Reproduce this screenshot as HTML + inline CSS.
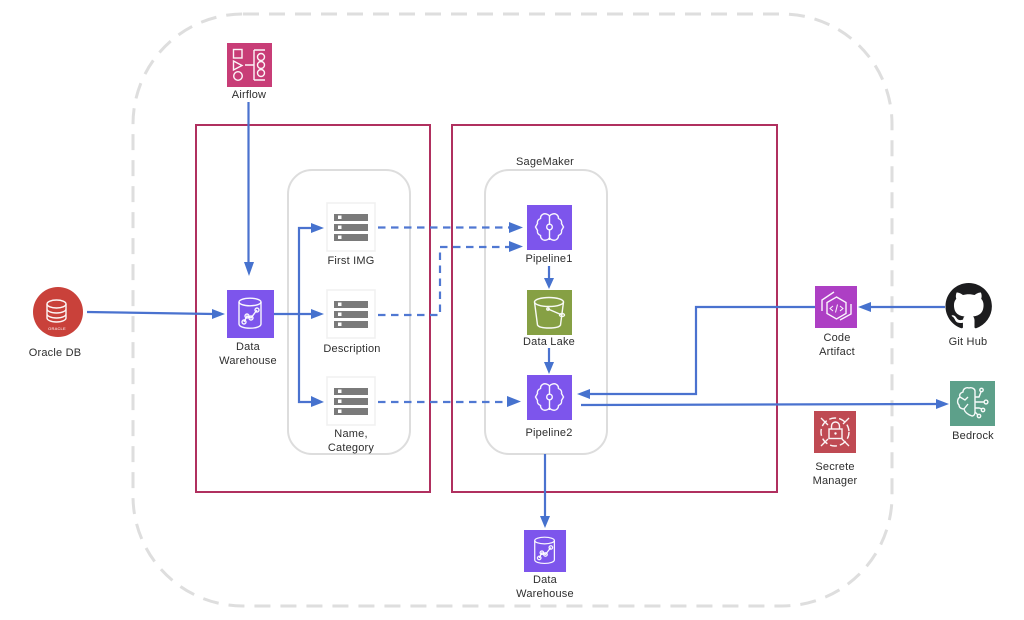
<!DOCTYPE html>
<html><head><meta charset="utf-8"><style>
html,body{margin:0;padding:0;background:#fff;width:1024px;height:620px;overflow:hidden}
svg{display:block}
text{font-family:"Liberation Sans",sans-serif;font-size:11px;fill:#2e2e2e;text-anchor:middle;letter-spacing:.2px}
.i{fill:none;stroke:#fff;stroke-width:1.4;opacity:.95}
.c{fill:none;stroke:#4a72cf;stroke-width:2.2}
.d{fill:none;stroke:#5078d2;stroke-width:2.2;stroke-dasharray:7.500 5.500}
.h{fill:#4672ce}
</style></head><body>
<svg width="1024" height="620" viewBox="0 0 1024 620" xmlns="http://www.w3.org/2000/svg">
<defs>
<g id="srv"><rect x="0" y="0" width="48" height="48" fill="#fff" stroke="#f0f0f0" stroke-width="1.500"/>
<g fill="#7a7a7a"><rect x="7" y="11" width="34" height="7"/><rect x="7" y="21" width="34" height="7"/><rect x="7" y="31" width="34" height="7"/></g>
<g fill="#fff"><rect x="11" y="12.500" width="3.500" height="3.500"/><rect x="11" y="22.500" width="3.500" height="3.500"/><rect x="11" y="32.500" width="3.500" height="3.500"/></g></g>
<g id="brain"><rect width="45" height="45" fill="#7d55ec"/>
<path class="i" d="M22.500 11c-1.500-2-5-3-7-1.500-1.500 1-2 2.500-2 4-2.500 1-3.500 3-3 5l-2 3.500 2 3.500c-.5 2 .5 4 3 5 0 1.500.5 3 2 4 2 1.500 5.500.5 7-1.500 1.500 2 5 3 7 1.500 1.500-1 2-2.500 2-4 2.500-1 3.500-3 3-5l2-3.500-2-3.500c.5-2-.5-4-3-5 0-1.500-.5-3-2-4-2-1.500-5.500-.5-7 1.500z"/>
<path class="i" d="M22.500 11v8.500M22.500 25v10"/><circle class="i" cx="22.500" cy="22" r="2.800"/></g>
<g id="dw"><rect width="47" height="48" fill="#7d55ec"/>
<ellipse class="i" cx="23" cy="12" rx="11" ry="3.800"/>
<path class="i" d="M12 12v22c0 2.500 5 4.200 11 4.200s11-1.700 11-4.200V12"/>
<path class="i" d="M17 32l3-6 4 2 6-8"/><circle class="i" cx="17" cy="32" r="2" fill="#7d55ec"/><circle class="i" cx="20" cy="26" r="2" fill="#7d55ec"/><circle class="i" cx="24" cy="28" r="2" fill="#7d55ec"/><circle class="i" cx="30" cy="20" r="2" fill="#7d55ec"/></g>
</defs>

<rect x="133" y="14" width="759" height="592" rx="110" fill="none" stroke="#dedede" stroke-width="3" stroke-dasharray="16 10"/>
<rect x="196" y="125" width="234" height="367" fill="none" stroke="#b0305f" stroke-width="2"/>
<rect x="452" y="125" width="325" height="367" fill="none" stroke="#b0305f" stroke-width="2"/>
<rect x="288" y="170" width="122" height="284" rx="24" fill="none" stroke="#ddd" stroke-width="2"/>
<rect x="485" y="170" width="122" height="284" rx="24" fill="none" stroke="#ddd" stroke-width="2"/>

<!-- connectors -->
<path class="c" d="M248.500 102V265"/><path class="h" d="M244 262h10l-5 14z"/>
<path class="c" d="M87 312L214 314"/><path class="h" d="M212 309l13 5-13 5z"/>
<path class="c" d="M274 314H314"/><path class="h" d="M311 309l13 5-13 5z"/>
<path class="c" d="M314 228H299V402H312"/>
<path class="h" d="M311 223l13 5-13 5z"/><path class="h" d="M311 396l13 6-13 5z"/>
<path class="d" d="M378 227.500H510"/><path class="h" d="M509 222l14 5.500-14 5.500z"/>
<path class="d" d="M378 315H440V247H510"/><path class="h" d="M509 241l14 5.500-14 5.500z"/>
<path class="d" d="M378 402H508"/><path class="h" d="M507 396l14 5.500-14 5.500z"/>
<path class="c" d="M549 266V282"/><path class="h" d="M544 278h10l-5 11z"/>
<path class="c" d="M549 348V365"/><path class="h" d="M544 362h10l-5 12z"/>
<path class="c" d="M545 454V518"/><path class="h" d="M540 516h10l-5 12z"/>
<path class="c" d="M815 307H696V394H590"/><path class="h" d="M590 389l-13 5 13 5z"/>
<path class="c" d="M945 307H868"/><path class="h" d="M871 302l-13 5 13 5z"/>
<path class="c" d="M581 405L938 404"/><path class="h" d="M936 399l13 5-13 5z"/>

<!-- Airflow -->
<rect x="227" y="43" width="45" height="44" fill="#c83d77"/>
<g class="i"><rect x="233.500" y="49.500" width="8.500" height="8.500"/><path d="M233.500 61l8.500 4.500-8.500 4.500z"/><circle cx="238" cy="76" r="4.300"/><path d="M245 65h9M254 50v30M254 50h11M254 80h11"/><circle cx="261" cy="57" r="3.500"/><circle cx="261" cy="65" r="3.500"/><circle cx="261" cy="73" r="3.500"/></g>
<text x="249" y="98">Airflow</text>

<!-- Oracle -->
<circle cx="58" cy="312" r="25" fill="#c9413a"/>
<g class="i"><ellipse cx="56.500" cy="304" rx="9.500" ry="4"/><path d="M47 304v14c0 2 4 4 9.500 4s9.500-2 9.500-4v-14M47 309c0 2 4 4 9.500 4s9.500-2 9.500-4M47 314c0 2 4 4 9.500 4s9.500-2 9.500-4"/></g>
<text x="57" y="330" style="font-size:4px;fill:#fff">ORACLE</text>
<text x="55" y="356">Oracle DB</text>

<!-- DW -->
<use href="#dw" x="227" y="290"/>
<text x="248" y="350">Data</text><text x="248" y="364">Warehouse</text>

<!-- Servers -->
<use href="#srv" x="327" y="203"/><text x="351" y="264">First IMG</text>
<use href="#srv" x="327" y="290"/><text x="352" y="352">Description</text>
<use href="#srv" x="327" y="377"/><text x="351" y="437">Name,</text><text x="351" y="451">Category</text>

<!-- SageMaker -->
<text x="545" y="165">SageMaker</text>
<use href="#brain" x="527" y="205"/><text x="549" y="262">Pipeline1</text>
<rect x="527" y="290" width="45" height="45" fill="#86a044"/>
<g class="i"><ellipse cx="549" cy="302" rx="14.500" ry="4.500"/><path d="M534.500 302l3 23c1 2 5 3 11.500 3s10.500-1 11.500-3l3-23M548 309l14 6"/><circle cx="548" cy="309" r="1.200"/><ellipse cx="562" cy="315" rx="2.500" ry="1.500"/></g>
<text x="549" y="345">Data Lake</text>
<use href="#brain" x="527" y="375"/><text x="549" y="436">Pipeline2</text>

<!-- Bottom DW -->
<g transform="translate(524 530) scale(.894 .875)"><use href="#dw"/></g>
<text x="545" y="583">Data</text><text x="545" y="597">Warehouse</text>

<!-- Code Artifact -->
<rect x="815" y="286" width="42" height="42" fill="#ad3fc4"/>
<g class="i"><path d="M836.500 297l9.500 5.500v11l-9.500 5.500-9.500-5.500v-11z"/><path d="M834 292l-12 8v11M851 304v10l-11 6"/><path d="M833 306l-3 2.500 3 2.500M840 306l3 2.500-3 2.500M837.500 304.500l-2 8" stroke-width="1"/></g>
<text x="837" y="341">Code</text><text x="837" y="355">Artifact</text>

<!-- GitHub -->
<g transform="translate(945.500 283) scale(2.900)"><path fill="#1c1c1e" d="M8 0C3.580 0 0 3.580 0 8c0 3.540 2.290 6.530 5.470 7.590.400.070.550-.170.550-.380 0-.190-.010-.820-.010-1.490-2.010.370-2.530-.490-2.690-.940-.090-.230-.480-.940-.820-1.130-.280-.150-.680-.520-.010-.530.630-.010 1.080.580 1.230.820.720 1.210 1.870.870 2.330.660.070-.520.280-.870.510-1.070-1.780-.200-3.640-.890-3.640-3.950 0-.870.310-1.590.820-2.150-.080-.200-.360-1.020.080-2.120 0 0 .670-.210 2.200.820.640-.180 1.320-.270 2-.270.680 0 1.360.090 2 .270 1.530-1.040 2.200-.820 2.200-.820.440 1.100.160 1.920.080 2.120.510.560.820 1.270.820 2.150 0 3.070-1.870 3.750-3.650 3.950.290.250.540.730.540 1.480 0 1.070-.010 1.930-.010 2.200 0 .210.150.460.550.380A8.013 8.013 0 0016 8c0-4.420-3.580-8-8-8z"/></g>
<text x="968" y="345">Git Hub</text>

<!-- Bedrock -->
<rect x="950" y="381" width="45" height="45" fill="#5da08a"/>
<g class="i" stroke-width="1.200"><path d="M969 388c-3-1-6 1-6 4-3 1-4 3-3 5-3 2-3 6-1 8 0 3 3 4 5 4 1 4 5 6 8 7 2 0 3-2 3-4v-21c0-2-3-4-6-3zM960 397l5 3 3-3M964 409l4-5"/><path d="M975 397h4l2-5M975 402h9M975 408h4l3 1M975 412l3 3"/><circle cx="981.500" cy="390" r="1.700"/><circle cx="986" cy="402" r="1.900"/><circle cx="983" cy="410" r="1.700"/><circle cx="979" cy="416" r="1.700"/></g>
<text x="973" y="439">Bedrock</text>

<!-- Secrets -->
<rect x="814" y="411" width="42" height="42" fill="#bf4a53"/>
<g class="i"><circle cx="835" cy="432" r="14" stroke-dasharray="7 3"/><path d="M821 418l7 7M849 418l-6 6M821 446l7-7M849 446l-7-7"/><rect x="829" y="429" width="13" height="9.500"/><path d="M831.500 429v-3a4 4 0 0 1 8 0v3"/></g>
<circle cx="835.500" cy="433.500" r="1.200" fill="#fff"/>
<text x="835" y="470">Secrete</text><text x="835" y="484">Manager</text>
</svg>
</body></html>
